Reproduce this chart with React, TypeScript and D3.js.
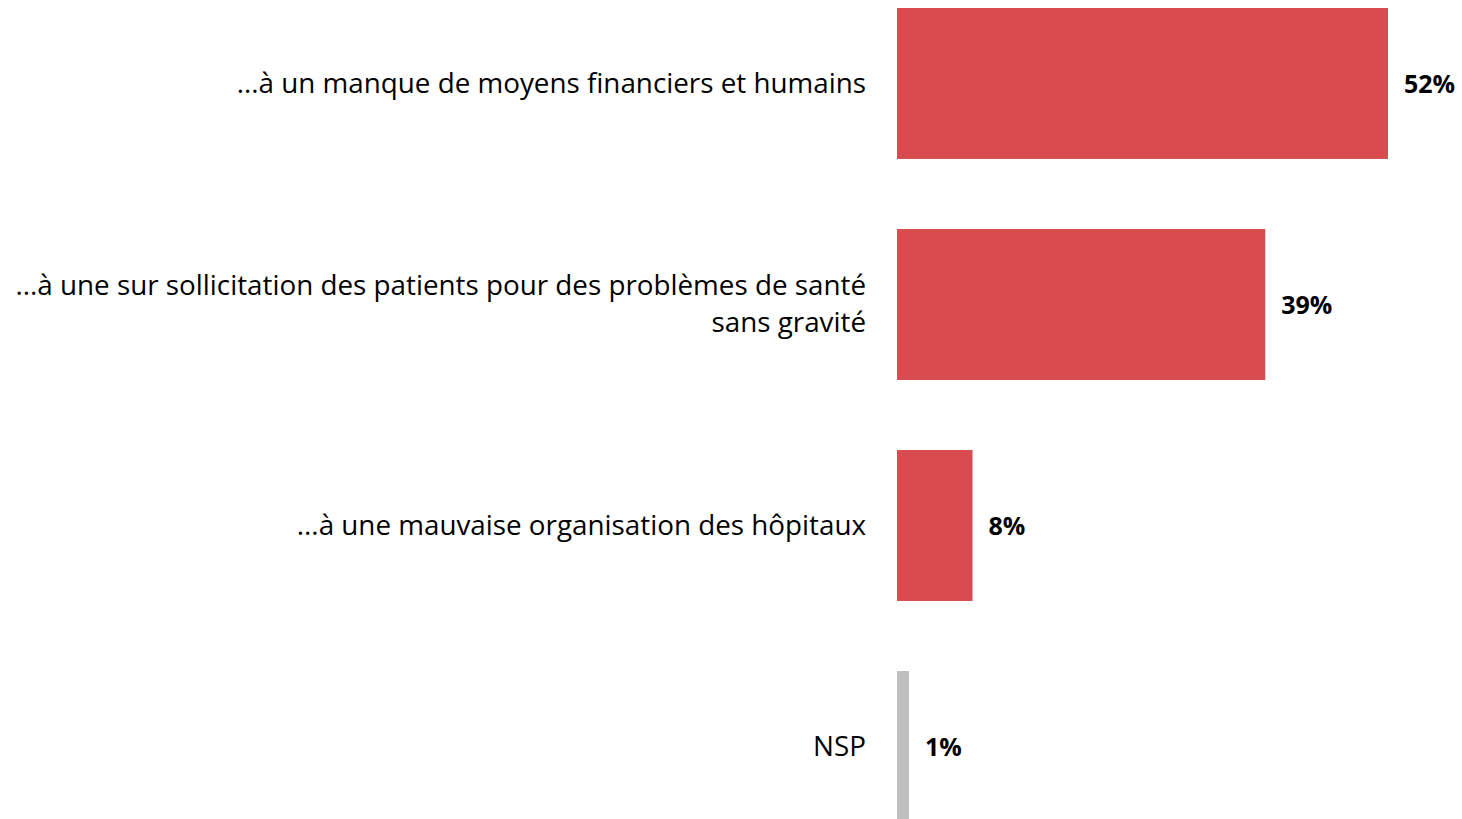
import { useEffect, useRef } from 'react';
import * as d3 from 'd3';

const categories = [
  ['...à un manque de moyens financiers et humains'],
  ['...à une sur sollicitation des patients pour des problèmes de santé', 'sans gravité'],
  ['...à une mauvaise organisation des hôpitaux'],
  ['NSP'],
];
const values = [52, 39, 8, 1];
const valueLabels = ['52%', '39%', '8%', '1%'];
const barColors = ['#D84C4F', '#D84C4F', '#D84C4F', '#BFBFBF'];

const App = () => {
  const svgRef = useRef<SVGSVGElement>(null);

  useEffect(() => {
    if (!svgRef.current) return;
    const width = 1462;
    const height = 819;

    d3.select(svgRef.current).selectAll('*').remove();
    const svg = d3.select(svgRef.current)
      .attr('width', width)
      .attr('height', height);

    const idx = values.map((_, i) => i);

    // bars start at x = 897, 52% reaches ~1388
    const xScale = d3.scaleLinear()
      .domain([0, 52])
      .range([897, 1388]);

    const yScale = d3.scaleBand<number>()
      .domain(idx)
      .range([8, 822])
      .paddingInner(0.317)
      .paddingOuter(0);

    const font = '"Open Sans", Lato, sans-serif';

    svg.selectAll('.bar')
      .data(idx)
      .enter()
      .append('rect')
      .attr('class', 'bar')
      .attr('x', xScale(0))
      .attr('y', i => yScale(i) as number)
      .attr('width', i => Math.max(12, xScale(values[i]) - xScale(0)))
      .attr('height', yScale.bandwidth())
      .attr('fill', i => barColors[i]);

    // value labels
    svg.selectAll('.value')
      .data(idx)
      .enter()
      .append('text')
      .attr('class', 'value')
      .attr('x', i => xScale(0) + Math.max(12, xScale(values[i]) - xScale(0)) + 16)
      .attr('y', i => (yScale(i) as number) + yScale.bandwidth() / 2 + 1)
      .attr('dy', '0.35em')
      .style('font-family', font)
      .style('font-size', '25px')
      .style('font-weight', 'bold')
      .attr('fill', '#000')
      .text(i => valueLabels[i]);

    // category labels
    const lineHeight = 37;
    const labels = svg.selectAll('.cat')
      .data(idx)
      .enter()
      .append('text')
      .attr('class', 'cat')
      .attr('text-anchor', 'end')
      .style('font-family', font)
      .style('font-size', '27.8px')
      .attr('fill', '#000');

    labels.each(function (i) {
      const lines = categories[i];
      const cy = (yScale(i) as number) + yScale.bandwidth() / 2;
      const startY = cy - ((lines.length - 1) * lineHeight) / 2;
      lines.forEach((line, k) => {
        d3.select(this)
          .append('tspan')
          .attr('x', 866)
          .attr('y', startY + k * lineHeight)
          .attr('dy', '0.33em')
          .text(line);
      });
    });
  }, []);

  return (
    <div style={{ position: 'absolute', left: 0, top: 0, background: '#fff' }}>
      <svg ref={svgRef} style={{ display: 'block' }}></svg>
    </div>
  );
};

export default App;
